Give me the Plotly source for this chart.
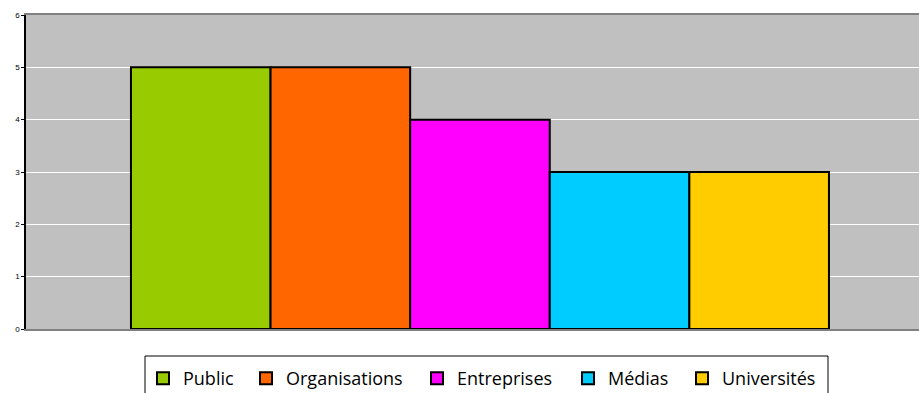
import plotly.graph_objects as go

categories = [""]
series_names = ["Public", "Organisations", "Entreprises", "Médias", "Universités"]
series_values = [5, 5, 4, 3, 3]
series_colors = ["#99CC00", "#FF6600", "#FF00FF", "#00CCFF", "#FFCC00"]
y_ticks = [0, 1, 2, 3, 4, 5, 6]

W, H = 919, 393
ml, mr, mt, mb = 26, 0, 15, 64
PW, PH = W - ml - mr, H - mt - mb

def px_x(p):
    return (p - ml) / PW

def px_y(p):
    return (H - mb - p) / PH

# left pixel of each legend entry (layout positions)
legend_left_px = [143, 246, 417, 568, 682]
legend_top_px = 360

fig = go.Figure()
for i, (name, val, col) in enumerate(zip(series_names, series_values, series_colors)):
    lg = "legend" if i == 0 else f"legend{i + 1}"
    fig.add_trace(go.Bar(
        x=[0], y=[val], name=name,
        marker=dict(color=col, line=dict(color="#000000", width=2)),
        width=0.16,
        legend=lg,
    ))

legend_common = dict(
    orientation="h",
    xanchor="left", yanchor="top",
    borderwidth=0,
    bgcolor="rgba(0,0,0,0)",
    font=dict(family="Open Sans, Tahoma, sans-serif", size=18, color="#000000"),
)
legends = {}
for i, lp in enumerate(legend_left_px):
    key = "legend" if i == 0 else f"legend{i + 1}"
    legends[key] = dict(legend_common, x=px_x(lp), y=px_y(legend_top_px))

fig.update_layout(
    width=W, height=H,
    margin=dict(l=ml, r=mr, t=mt, b=mb, autoexpand=False),
    paper_bgcolor="#FFFFFF",
    plot_bgcolor="#C0C0C0",
    barmode="group",
    bargap=0.2,
    bargroupgap=0,
    showlegend=True,
    xaxis=dict(
        range=[-0.5203, 0.5032],
        showticklabels=False, ticks="",
        showgrid=False, zeroline=False,
        showline=True, linecolor="#808080", linewidth=2, mirror=True,
        fixedrange=True, automargin=False,
    ),
    yaxis=dict(
        range=[0, 6],
        tickvals=y_ticks,
        ticks="outside", ticklen=3, tickcolor="#000000", tickwidth=1,
        tickfont=dict(family="Liberation Sans, Arial, sans-serif", size=8, color="#000000"),
        showgrid=True, gridcolor="#FFFFFF", gridwidth=1,
        zeroline=False,
        showline=True, linecolor="#000000", linewidth=1.5,
        fixedrange=True, automargin=False,
    ),
    shapes=[dict(
        type="rect", xref="paper", yref="paper",
        x0=px_x(145), x1=px_x(828), y0=px_y(356), y1=px_y(410),
        line=dict(color="#000000", width=1), fillcolor="rgba(0,0,0,0)",
        layer="below",
    )],
    **legends,
)

fig.write_html(
    "out.html",
    config={"displayModeBar": False},
    post_script="document.body.style.margin='0';document.body.style.overflow='hidden';",
)
